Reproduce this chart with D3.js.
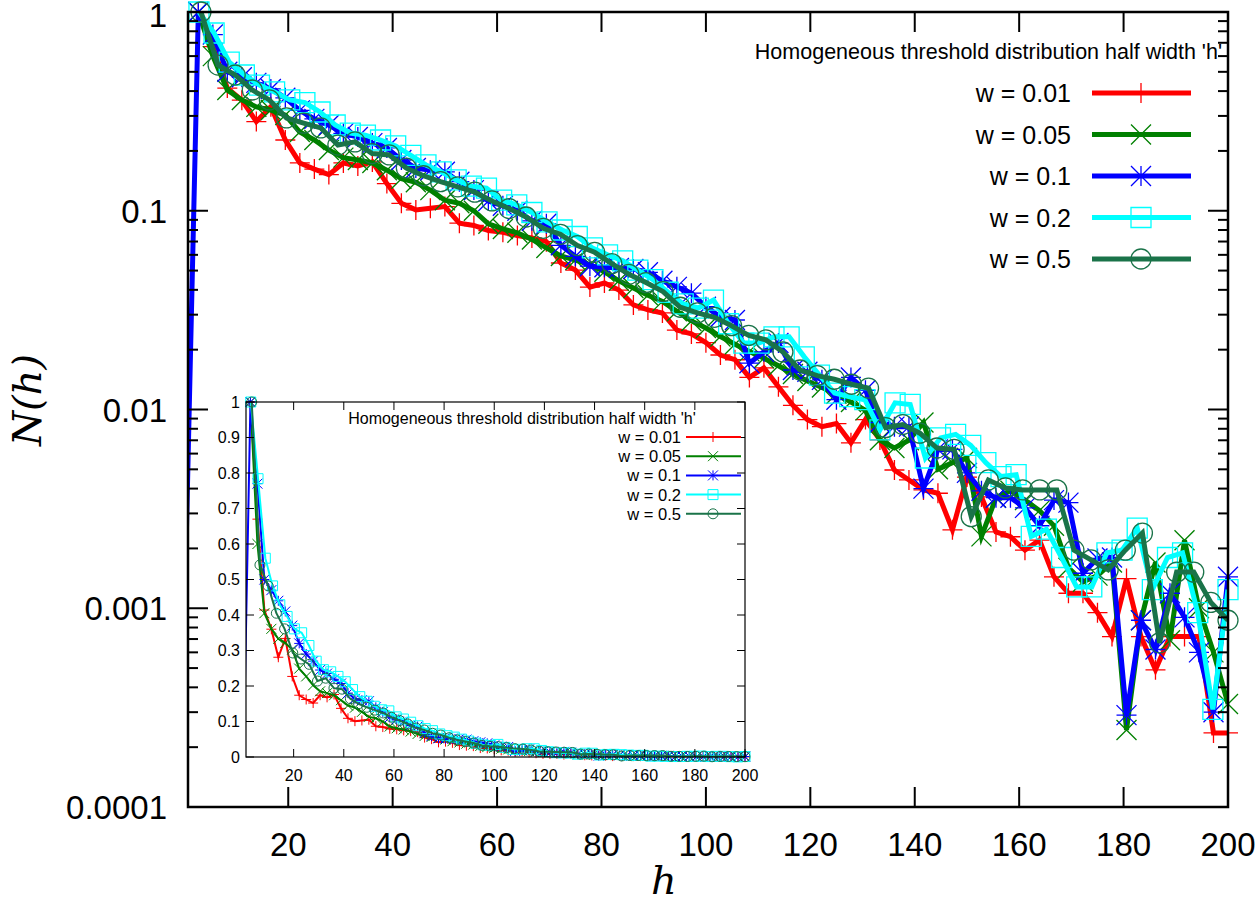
<!DOCTYPE html>
<html><head><meta charset="utf-8">
<script src="https://cdn.jsdelivr.net/npm/d3@7"></script>
<style>body{margin:0;background:#fff}svg{display:block}</style>
</head><body>
<svg id="chart" width="1258" height="906"></svg>
<script>
// ---------------- data ----------------
const seriesLabels = ["w = 0.01", "w = 0.05", "w = 0.1", "w = 0.2", "w = 0.5"];
const seriesColors = ["#ff0000", "#008000", "#0000ff", "#00ffff", "#1a7349"];
const seriesMarkers = ["plus", "cross", "star", "square", "circle"];

// h values (bin positions) of each series
const hW001 = [2.78,5.56,8.33,11.11,13.89,16.67,19.44,22.22,25,27.78,30.56,33.33,36.11,38.89,41.67,44.44,47.22,50,52.78,55.56,
  58.33,61.11,63.89,66.67,69.44,72.22,75,77.78,80.56,83.33,86.11,88.89,91.67,94.44,97.22,100,102.78,105.56,108.33,111.11,
  113.89,116.67,119.44,122.22,125,127.78,130.56,133.33,136.11,138.89,141.67,144.44,147.22,150,152.78,155.56,158.33,161.11,163.89,166.67,
  169.44,172.22,175,177.78,180.56,183.33,186.11,188.89,191.67,194.44,197.22,200];
const hW005 = hW001;
const hW01 = [0,2.78,5.56,8.33,11.11,13.89,16.67,19.44,22.22,25,27.78,30.56,33.33,36.11,38.89,41.67,44.44,47.22,50,52.78,55.56,
  58.33,61.11,63.89,66.67,69.44,72.22,75,77.78,80.56,83.33,86.11,88.89,91.67,94.44,97.22,100,102.78,105.56,108.33,111.11,
  113.89,116.67,119.44,122.22,125,127.78,130.56,133.33,136.11,138.89,141.67,144.44,147.22,150,152.78,155.56,158.33,161.11,163.89,166.67,
  169.44,172.22,175,177.78,180.56,183.33,186.11,188.89,191.67,194.44,197.22,200];
const hW02 = [2.9,5.8,8.7,11.59,14.49,17.39,20.29,23.19,26.09,28.99,31.88,34.78,37.68,40.58,43.48,46.38,49.28,52.17,55.07,57.97,
  60.87,63.77,66.67,69.57,72.46,75.36,78.26,81.16,84.06,86.96,89.86,92.75,95.65,98.55,101.45,104.35,107.25,110.14,113.04,115.94,
  118.84,121.74,124.64,127.54,130.43,133.33,136.23,139.13,142.03,144.93,147.83,150.72,153.62,156.52,159.42,162.32,165.22,168.12,171.01,173.91,
  176.81,179.71,182.61,185.51,188.41,191.3,194.2,197.1,200];
const hW05 = [3.28,6.56,9.84,13.11,16.39,19.67,22.95,26.23,29.51,32.79,36.07,39.34,42.62,45.9,49.18,52.46,55.74,59.02,62.3,65.57,
  68.85,72.13,75.41,78.69,81.97,85.25,88.52,91.8,95.08,98.36,101.64,104.92,108.2,111.48,114.75,118.03,121.31,124.59,127.87,131.15,
  134.43,137.7,140.98,144.26,147.54,150.82,154.1,157.38,160.66,163.93,167.21,170.49,173.77,177.05,180.33,183.61,186.89,190.16,193.44,196.72,200];

// N(h) values of each series
const nW001 = [1,0.67,0.414,0.36,0.281,0.334,0.227,0.174,0.162,0.152,
  0.174,0.168,0.176,0.137,0.109,0.101,0.103,0.105,0.0866,0.0843,
  0.0795,0.078,0.075,0.0729,0.0699,0.0546,0.0503,0.0413,0.0433,0.0399,
  0.0336,0.0317,0.0306,0.0251,0.024,0.0217,0.0188,0.0178,0.0145,0.0162,
  0.013,0.0105,0.0089,0.0082,0.0085,0.0068,0.0089,0.00703,0.00496,0.00442,
  0.00394,0.00379,0.00248,0.00457,0.00363,0.00242,0.00229,0.00196,0.0022,0.00144,
  0.00119,0.00119,0.00095,0.00072,0.00141,0.00072,0.00049,0.00072,0.00072,0.00072,
  0.000236,0.000236];
const nW005 = [1,0.6,0.405,0.361,0.333,0.321,0.303,0.249,0.227,0.202,
  0.185,0.18,0.174,0.16,0.145,0.139,0.127,0.113,0.109,0.1,
  0.086,0.081,0.0775,0.0717,0.065,0.0592,0.0565,0.0536,0.0493,0.0444,
  0.0409,0.0376,0.035,0.0312,0.0279,0.0257,0.0233,0.0213,0.0196,0.0181,
  0.0166,0.0151,0.0139,0.0129,0.012,0.0109,0.0099,0.007,0.0064,0.007,
  0.0086,0.005,0.0054,0.0057,0.0023,0.0036,0.0039,0.0035,0.0031,0.0026,
  0.0016,0.00136,0.00146,0.0017,0.000244,0.00087,0.0017,0.00069,0.0022,0.001,
  0.0006,0.00033];
const nW01 = [0.00066,1,0.77,0.5,0.47,0.44,0.41,0.37,0.32,0.29,0.27,
  0.245,0.235,0.219,0.207,0.18,0.164,0.16,0.157,0.14,0.127,
  0.112,0.106,0.1,0.089,0.086,0.067,0.059,0.0526,0.052,0.0515,
  0.0509,0.049,0.0444,0.0414,0.0385,0.0329,0.0292,0.0282,0.0171,0.0195,
  0.0216,0.0158,0.0155,0.0141,0.0112,0.0145,0.0125,0.0086,0.0082,0.0082,
  0.004,0.0063,0.0063,0.0048,0.0039,0.0036,0.0036,0.0032,0.0026,0.0035,
  0.0034,0.0015,0.00178,0.0018,0.00029,0.00087,0.00062,0.00119,0.0009,0.0006,
  0.0003,0.00144];
const nW02 = [1,0.784,0.56,0.482,0.429,0.396,0.361,0.35,0.314,0.27,
  0.246,0.24,0.227,0.212,0.19,0.17,0.157,0.143,0.133,0.13,
  0.113,0.107,0.098,0.088,0.08,0.0742,0.065,0.06,0.056,0.0503,
  0.045,0.0389,0.034,0.0324,0.0355,0.027,0.0216,0.0216,0.0232,0.0232,
  0.0184,0.0149,0.0121,0.0116,0.0112,0.0079,0.0108,0.0106,0.0057,0.0072,
  0.0075,0.0066,0.0054,0.0046,0.0047,0.0023,0.0025,0.0018,0.00128,0.00128,
  0.0019,0.00196,0.00253,0.00124,0.0018,0.0019,0.00095,0.00031,0.00124];
const nW05 = [1,0.541,0.482,0.405,0.361,0.293,0.276,0.261,0.214,0.222,
  0.194,0.191,0.164,0.15,0.14,0.132,0.124,0.112,0.1026,0.093,
  0.0816,0.0761,0.0668,0.0618,0.0542,0.0479,0.0435,0.0392,0.0327,0.0306,
  0.0291,0.0264,0.0236,0.0224,0.0195,0.0158,0.0148,0.0142,0.0134,0.0128,
  0.0081,0.0084,0.0076,0.0064,0.0063,0.00289,0.00442,0.00403,0.00394,0.00394,
  0.00394,0.00196,0.00175,0.00156,0.00196,0.00239,0.00067,0.00152,0.00152,0.00107,0.00087];

const seriesX = [hW001, hW005, hW01, hW02, hW05];
const seriesY = [nW001, nW005, nW01, nW02, nW05];

const mainXTicks = [20,40,60,80,100,120,140,160,180,200];
const mainYTicks = [1,0.1,0.01,0.001,0.0001];
const mainYTickLabels = ["1","0.1","0.01","0.001","0.0001"];
const insetXTicks = [20,40,60,80,100,120,140,160,180,200];
const insetYTicks = [0,0.1,0.2,0.3,0.4,0.5,0.6,0.7,0.8,0.9,1];
const legendTitle = "Homogeneous threshold distribution half width 'h'";

// ---------------- drawing ----------------
const svg = d3.select("#chart");
const FONT = "'Liberation Sans', Arial, sans-serif";

function markerPath(type, s) {
  const p = d3.path();
  if (type === "plus" || type === "star") { p.moveTo(-s,0); p.lineTo(s,0); p.moveTo(0,-s); p.lineTo(0,s); }
  if (type === "cross" || type === "star") { p.moveTo(-s,-s); p.lineTo(s,s); p.moveTo(-s,s); p.lineTo(s,-s); }
  if (type === "square") { p.rect(-s,-s,2*s,2*s); }
  if (type === "circle") { p.moveTo(s,0); p.arc(0,0,s,0,2*Math.PI); }
  return p.toString();
}

function drawPanel(g, opts) {
  const {x, y, L, R, T, B, lw, ms, mw, clipId, xmin} = opts;
  g.append("clipPath").attr("id", clipId).append("rect")
    .attr("x", L).attr("y", T).attr("width", R - L).attr("height", B - T);
  const lines = g.append("g").attr("clip-path", `url(#${clipId})`);
  seriesY.forEach((ys, i) => {
    const xs = seriesX[i];
    const pts = ys.map((v, j) => [xs[j], v]);
    const line = d3.line().x(d => x(d[0])).y(d => y(d[1]));
    const sg = g.append("g");
    sg.append("path").attr("d", line(pts)).attr("fill", "none").attr("clip-path", `url(#${clipId})`)
      .attr("stroke", seriesColors[i]).attr("stroke-width", lw).attr("stroke-linejoin", "miter");
    const mp = markerPath(seriesMarkers[i], ms);
    sg.append("g").selectAll("path").data(pts.filter(d => d[0] >= xmin)).join("path")
      .attr("transform", d => `translate(${x(d[0])},${y(d[1])})`)
      .attr("d", mp).attr("fill", "none").attr("stroke", seriesColors[i]).attr("stroke-width", mw);
  });
}

// main panel
const mL = 188, mR = 1228, mT = 12, mB = 807;
const xMain = d3.scaleLinear().domain([0.8, 200]).range([mL, mR]);
const yMain = d3.scaleLog().domain([0.0001, 1]).range([mB, mT]);
const gMain = svg.append("g");
drawPanel(gMain, {x: xMain, y: yMain, L: mL, R: mR, T: mT, B: mB, lw: 5, ms: 10, mw: 1.3, clipId: "clipMain", xmin: 0.8});

// main axes ticks
const axG = svg.append("g").attr("stroke", "#000").attr("stroke-width", 2);
mainXTicks.forEach(t => {
  const px = xMain(t);
  axG.append("line").attr("x1", px).attr("x2", px).attr("y1", mB).attr("y2", mB - 20);
  axG.append("line").attr("x1", px).attr("x2", px).attr("y1", mT).attr("y2", mT + 20);
});
const minorY = [];
for (let e = -4; e < 0; e++) for (let m = 2; m <= 9; m++) minorY.push(m * Math.pow(10, e));
mainYTicks.forEach(t => {
  const py = yMain(t);
  axG.append("line").attr("x1", mL).attr("x2", mL + 20).attr("y1", py).attr("y2", py);
  axG.append("line").attr("x1", mR).attr("x2", mR - 20).attr("y1", py).attr("y2", py);
});
minorY.forEach(t => {
  const py = yMain(t);
  axG.append("line").attr("x1", mL).attr("x2", mL + 10).attr("y1", py).attr("y2", py);
  axG.append("line").attr("x1", mR).attr("x2", mR - 10).attr("y1", py).attr("y2", py);
});
svg.append("rect").attr("x", mL).attr("y", mT).attr("width", mR - mL).attr("height", mB - mT)
  .attr("fill", "none").attr("stroke", "#000").attr("stroke-width", 2.5);

svg.append("g").selectAll("text").data(mainXTicks).join("text")
  .attr("x", d => xMain(d)).attr("y", 856).attr("text-anchor", "middle")
  .attr("font-family", FONT).attr("font-size", 33).text(d => d);
svg.append("g").selectAll("text").data(mainYTicks).join("text")
  .attr("x", 167).attr("y", d => Math.max(yMain(d) + 12, 27)).attr("text-anchor", "end")
  .attr("font-family", FONT).attr("font-size", 33).text((d, i) => mainYTickLabels[i]);

// axis titles
svg.append("text").attr("transform", "translate(41,400) rotate(-90)").attr("text-anchor", "middle")
  .attr("font-family", "'DejaVu Serif', serif").attr("font-style", "italic").attr("font-size", 40)
  .text("N(h)");
svg.append("text").attr("x", 664).attr("y", 894).attr("text-anchor", "middle")
  .attr("font-family", "'DejaVu Serif', serif").attr("font-style", "italic").attr("font-size", 40)
  .text("h");

// main legend
svg.append("text").attr("x", 1222).attr("y", 59).attr("text-anchor", "end")
  .attr("font-family", FONT).attr("font-size", 21.5).text(legendTitle);
seriesLabels.forEach((lab, i) => {
  const ly = 93 + i * 41.5;
  svg.append("text").attr("x", 1071).attr("y", ly + 9).attr("text-anchor", "end")
    .attr("font-family", FONT).attr("font-size", 25).text(lab);
  svg.append("line").attr("x1", 1092).attr("x2", 1191).attr("y1", ly).attr("y2", ly)
    .attr("stroke", seriesColors[i]).attr("stroke-width", 5);
  svg.append("path").attr("transform", `translate(1141,${ly})`).attr("d", markerPath(seriesMarkers[i], 10))
    .attr("fill", "none").attr("stroke", seriesColors[i]).attr("stroke-width", 1.3);
});

// ---------------- inset ----------------
const iL = 246, iR = 745, iT = 402, iB = 757;
const xIn = d3.scaleLinear().domain([1, 200]).range([iL, iR]);
const yIn = d3.scaleLinear().domain([0, 1]).range([iB, iT]);
svg.append("rect").attr("x", iL - 1).attr("y", iT - 1).attr("width", iR - iL + 2).attr("height", iB - iT + 2).attr("fill", "#fff");
const gIn = svg.append("g");
drawPanel(gIn, {x: xIn, y: yIn, L: iL, R: iR, T: iT, B: iB, lw: 2, ms: 5, mw: 1, clipId: "clipIn", xmin: 1});
const inAx = svg.append("g").attr("stroke", "#000").attr("stroke-width", 1);
insetXTicks.forEach(t => {
  const px = xIn(t);
  inAx.append("line").attr("x1", px).attr("x2", px).attr("y1", iB).attr("y2", iB - 8);
  inAx.append("line").attr("x1", px).attr("x2", px).attr("y1", iT).attr("y2", iT + 8);
});
insetYTicks.forEach(t => {
  const py = yIn(t);
  inAx.append("line").attr("x1", iL).attr("x2", iL + 8).attr("y1", py).attr("y2", py);
  inAx.append("line").attr("x1", iR).attr("x2", iR - 8).attr("y1", py).attr("y2", py);
});
svg.append("rect").attr("x", iL).attr("y", iT).attr("width", iR - iL).attr("height", iB - iT)
  .attr("fill", "none").attr("stroke", "#000").attr("stroke-width", 1.2);
svg.append("g").selectAll("text").data(insetXTicks).join("text")
  .attr("x", d => xIn(d)).attr("y", 781).attr("text-anchor", "middle")
  .attr("font-family", FONT).attr("font-size", 16).text(d => d);
svg.append("g").selectAll("text").data(insetYTicks).join("text")
  .attr("x", 240).attr("y", d => yIn(d) + 5.5).attr("text-anchor", "end")
  .attr("font-family", FONT).attr("font-size", 16).text(d => d);
svg.append("text").attr("x", 522).attr("y", 424).attr("text-anchor", "middle")
  .attr("font-family", FONT).attr("font-size", 16).text(legendTitle);
seriesLabels.forEach((lab, i) => {
  const ly = 437 + i * 19.2;
  svg.append("text").attr("x", 681).attr("y", ly + 6).attr("text-anchor", "end")
    .attr("font-family", FONT).attr("font-size", 16.5).text(lab);
  svg.append("line").attr("x1", 686).attr("x2", 741).attr("y1", ly).attr("y2", ly)
    .attr("stroke", seriesColors[i]).attr("stroke-width", 2);
  svg.append("path").attr("transform", `translate(713,${ly})`).attr("d", markerPath(seriesMarkers[i], 5))
    .attr("fill", "none").attr("stroke", seriesColors[i]).attr("stroke-width", 1);
});
</script>
</body></html>
